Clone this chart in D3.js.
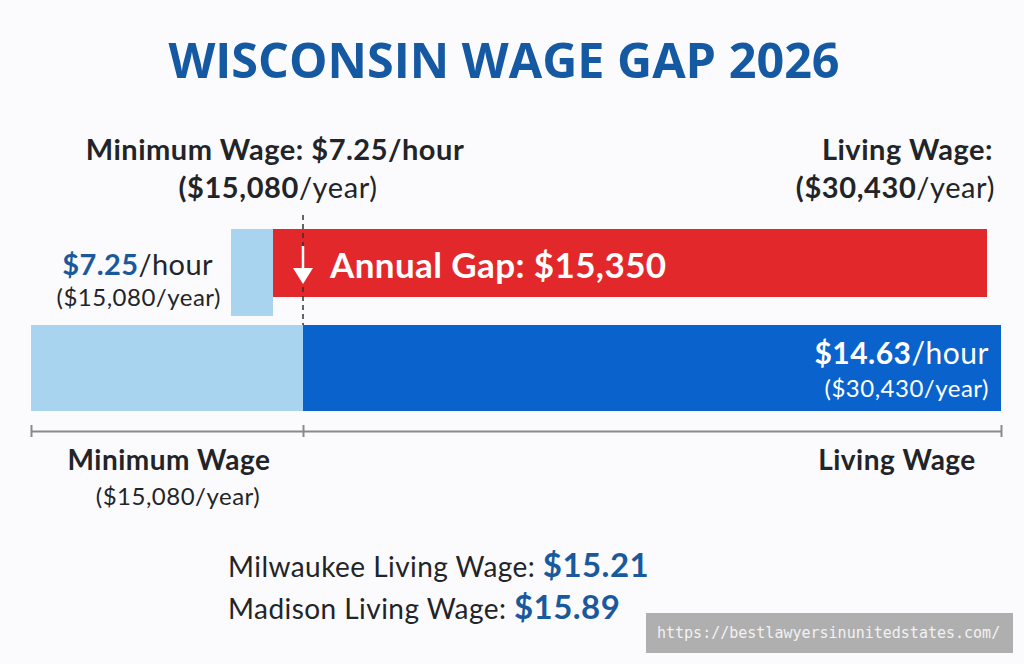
<!DOCTYPE html>
<html>
<head>
<meta charset="utf-8">
<script src="https://cdn.jsdelivr.net/npm/d3@7/dist/d3.min.js"></script>
<style>
  html, body { margin: 0; padding: 0; background: #fbfbfd; }
  svg { display: block; }
</style>
</head>
<body>
<svg id="chart" width="1024" height="664"></svg>
<script>
// ---- data ----
const title = "WISCONSIN WAGE GAP 2026";
const categories = ["Minimum Wage", "Living Wage"];
const hourlyWages = [7.25, 14.63];
const annualWages = [15080, 30430];
const annualGap = 15350;
const cities = ["Milwaukee", "Madison"];
const cityWages = [15.21, 15.89];
const watermark = "https://bestlawyersinunitedstates.com/";

// ---- styles ----
const C = {
  bg: "#fbfbfd",
  title: "#1559a3",
  text: "#222428",
  blueText: "#1a5a9c",
  light: "#a9d4ef",
  dark: "#0a63cd",
  red: "#e3282c",
  axis: "#8a8a8a"
};
const F = "Lato, 'Open Sans', sans-serif";

const svg = d3.select("#chart");
svg.append("rect").attr("width", 1024).attr("height", 664).attr("fill", C.bg);

const fmtMoney = d3.format("$,.0f");
const fmtHour = d3.format("$.2f");

// scales
const x = d3.scaleLinear().domain([0, annualWages[0], annualWages[1]]).range([31, 303, 1001]);
const xTop = d3.scaleLinear().domain([annualWages[0], annualWages[1]]).range([273, 987]);
const stubWidth = 42;

// title
svg.append("text").attr("x", 504).attr("y", 78).attr("text-anchor", "middle")
  .attr("font-family", "'Open Sans', sans-serif").attr("font-weight", 700)
  .attr("font-size", 48.5).attr("fill", C.title).text(title);

// helper for mixed text
function mixed(xp, y, anchor, parts, size, ls) {
  const t = svg.append("text").attr("x", xp).attr("y", y).attr("text-anchor", anchor)
    .attr("font-family", F).attr("font-size", size).attr("letter-spacing", ls || 0);
  parts.forEach(p => {
    t.append("tspan").text(p.t).attr("font-weight", p.b ? 700 : 400)
      .attr("fill", p.c || C.text).attr("font-size", p.s || size);
  });
  return t;
}

// top header labels
mixed(275, 160, "middle", [{t: categories[0] + ": " + fmtHour(hourlyWages[0]) + "/hour", b: true}], 29, 0.5);
mixed(278, 198, "middle", [{t: "(" + fmtMoney(annualWages[0]), b: true}, {t: "/year)"}], 29, 0.6);
mixed(993, 160, "end", [{t: categories[1] + ":", b: true}], 29, 0.5);
mixed(995, 198, "end", [{t: "(" + fmtMoney(annualWages[1]), b: true}, {t: "/year)"}], 29, 0.6);

// top row: stub + gap bar
const topY = 229, stubH = 87, gapH = 68;
svg.append("rect").attr("x", xTop(annualWages[0]) - stubWidth).attr("y", topY)
  .attr("width", stubWidth).attr("height", stubH).attr("fill", C.light);
svg.append("rect").attr("x", xTop(annualWages[0])).attr("y", topY)
  .attr("width", xTop(annualWages[1]) - xTop(annualWages[0])).attr("height", gapH).attr("fill", C.red);

// bottom row bars
const botY = 325, botH = 86;
svg.selectAll("rect.bar").data(annualWages).enter().append("rect").attr("class", "bar")
  .attr("x", (d, i) => i === 0 ? x(0) : x(annualWages[0]))
  .attr("y", botY)
  .attr("width", (d, i) => i === 0 ? x(d) - x(0) : x(d) - x(annualWages[0]))
  .attr("height", botH)
  .attr("fill", (d, i) => i === 0 ? C.light : C.dark);

// dashed marker line
svg.append("line").attr("x1", x(annualWages[0])).attr("x2", x(annualWages[0]))
  .attr("y1", 215).attr("y2", botY).attr("stroke", "#333").attr("stroke-width", 1.5)
  .attr("stroke-dasharray", "5,4");

// arrow in gap bar
const ax = x(annualWages[0]);
svg.append("line").attr("x1", ax).attr("x2", ax).attr("y1", 246).attr("y2", 272)
  .attr("stroke", "#fff").attr("stroke-width", 2.5);
svg.append("path").attr("d", `M${ax - 10},${268} L${ax + 10},${268} L${ax},${284} Z`).attr("fill", "#fff");

// gap text
mixed(330, 278, "start", [{t: "Annual Gap: " + fmtMoney(annualGap), b: true, c: "#fff"}], 35, 0.4);

// left label (min wage)
mixed(213, 275, "end", [{t: fmtHour(hourlyWages[0]), b: true, c: C.blueText}, {t: "/hour"}], 29, 0.4);
mixed(221, 306, "end", [{t: "(" + fmtMoney(annualWages[0]) + "/year)"}], 24, 0.5);

// label inside dark bar
mixed(989, 364, "end", [{t: fmtHour(hourlyWages[1]), b: true, c: "#fff"}, {t: "/hour", c: "#fff"}], 30, 0.5);
mixed(989, 397, "end", [{t: "(" + fmtMoney(annualWages[1]) + "/year)", c: "#fff"}], 24, 0.5);

// axis
const axisG = svg.append("g").attr("transform", "translate(0,431)")
  .call(d3.axisBottom(x).tickValues([0, annualWages[0], annualWages[1]]).tickFormat("").tickSizeOuter(0).tickSizeInner(6));
axisG.select(".domain").attr("stroke", C.axis).attr("stroke-width", 2);
axisG.selectAll(".tick line").attr("y1", -6).attr("y2", 6).attr("stroke", C.axis).attr("stroke-width", 2);

// bottom category labels
mixed(169, 470, "middle", [{t: categories[0], b: true}], 28, 0.5);
mixed(178, 505, "middle", [{t: "(" + fmtMoney(annualWages[0]) + "/year)"}], 24, 0.5);
mixed(897, 470, "middle", [{t: categories[1], b: true}], 28, 0.5);

// city lines
cities.forEach((c, i) => {
  mixed(228, 577 + i * 42, "start", [
    {t: c + " Living Wage:  "},
    {t: fmtHour(cityWages[i]), b: true, c: C.blueText, s: 33}
  ], 28, 0.45);
});

// watermark
svg.append("rect").attr("x", 646).attr("y", 613).attr("width", 367).attr("height", 40).attr("fill", "#b0afaf");
svg.append("text").attr("x", 657).attr("y", 638).attr("font-family", "'DejaVu Sans Mono', monospace")
  .attr("font-size", 15).attr("fill", "#f2f2f2").text(watermark);
</script>
</body>
</html>
